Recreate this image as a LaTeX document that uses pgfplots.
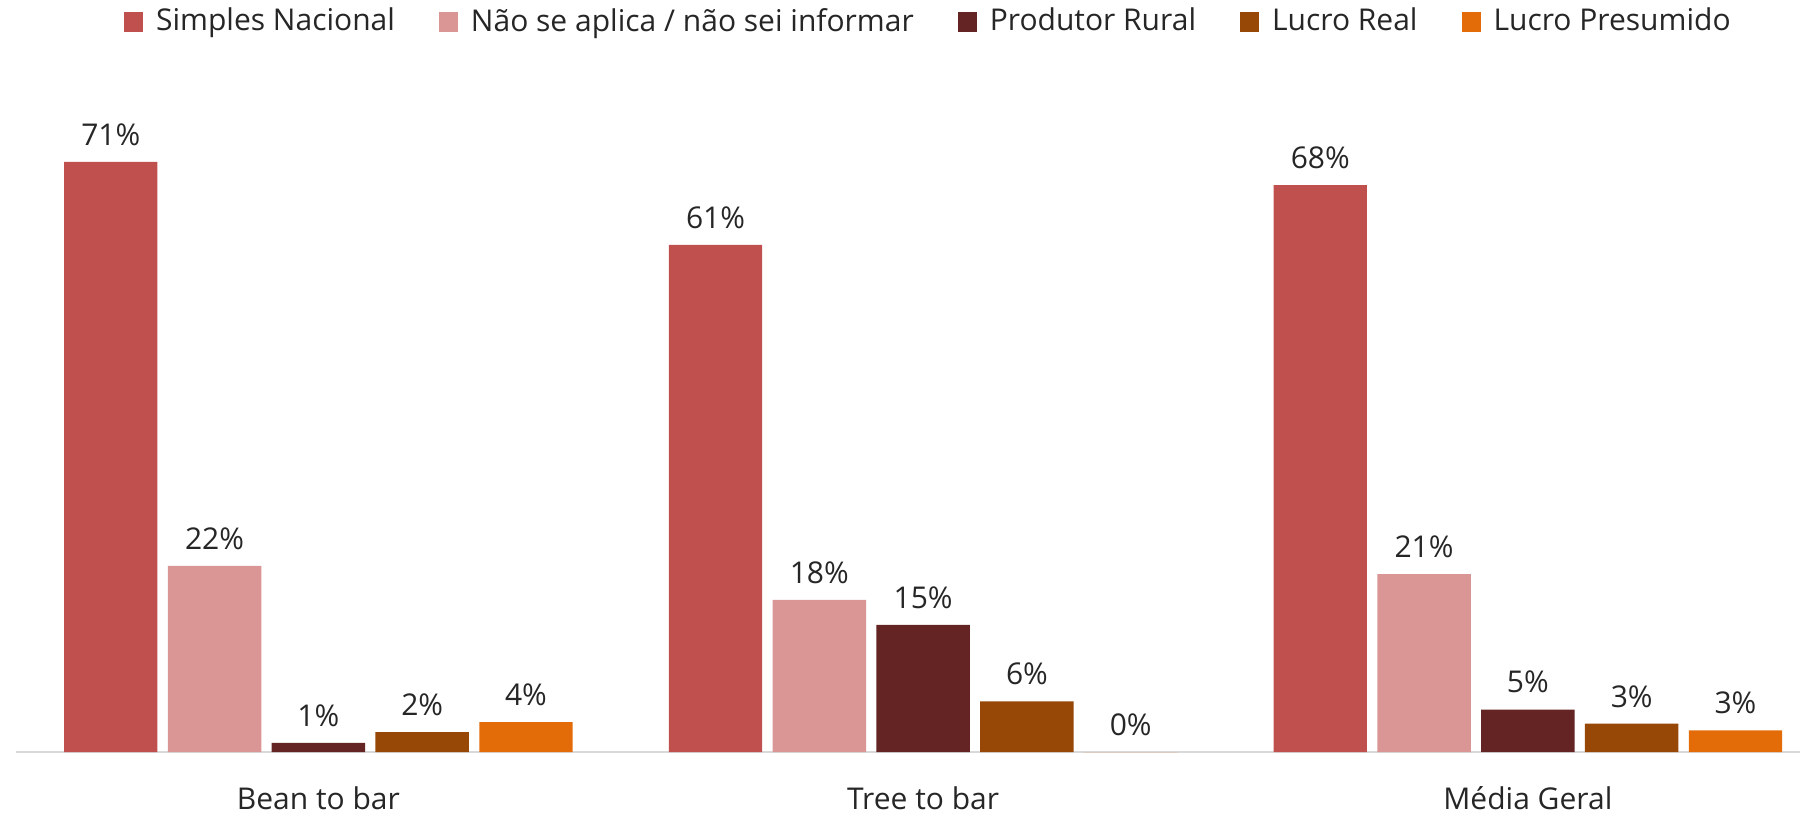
\documentclass[border=0pt]{standalone}
\usepackage{pgfplots}
\pgfplotsset{compat=1.18}
\usepackage{fontspec}
\setmainfont{Open Sans}
\definecolor{cA}{HTML}{C0504D}
\definecolor{cB}{HTML}{D99694}
\definecolor{cC}{HTML}{632423}
\definecolor{cD}{HTML}{974806}
\definecolor{cE}{HTML}{E36C09}
\definecolor{txt}{HTML}{262626}
\begin{document}
\fontsize{15}{18}\selectfont
\begin{tikzpicture}
\begin{axis}[
  scale only axis,
  width=892pt, height=332.5pt,
  ymin=0, ymax=80,
  xmin=-0.5, xmax=2.45,
  ybar=5.2pt, bar width=46.7pt,
  xtick=data,
  xticklabels={Bean to bar, Tree to bar, Média Geral},
  xticklabel style={font=\fontsize{15}{18}\selectfont, text=txt, yshift=-12pt},
  major tick length=0pt,
  axis y line=none,
  axis x line*=bottom,
  x axis line style={-, draw=black!15, line width=1.2pt},
  /pgf/number format/assume math mode=true,
  nodes near coords={\pgfmathprintnumber[fixed,precision=0]{\pgfplotspointmeta}\%},
  nodes near coords style={font=\fontsize{15}{18}\selectfont, text=txt, yshift=3pt},
  legend columns=5,
  legend style={draw=none, at={(0.512,1.098)}, anchor=center, font=\fontsize{15}{18}\selectfont, text=txt,
    /tikz/every odd column/.append style={column sep=4.5pt},
    /tikz/every even column/.append style={column sep=20pt}},
  legend image code/.code={\fill[#1] (0pt,-5pt) rectangle (9.5pt,5pt);},
]
\addplot[fill=cA, draw=none] coordinates {(0,71) (1,61) (2,68.2)};
\addplot[fill=cB, draw=none] coordinates {(0,22.4) (1,18.3) (2,21.4)};
\addplot[fill=cC, draw=none] coordinates {(0,1.1) (1,15.3) (2,5.1)};
\addplot[fill=cD, draw=none] coordinates {(0,2.4) (1,6.1) (2,3.4)};
\addplot[fill=cE, draw=none] coordinates {(0,3.6) (1,0) (2,2.6)};
\legend{Simples Nacional, Não se aplica / não sei informar, Produtor Rural, Lucro Real, Lucro Presumido}
\end{axis}
\pgfresetboundingbox
\path[use as bounding box] (current axis.south west) ++(-8pt,-31pt) rectangle ++(905.5pt,407pt);
\end{tikzpicture}
\end{document}
